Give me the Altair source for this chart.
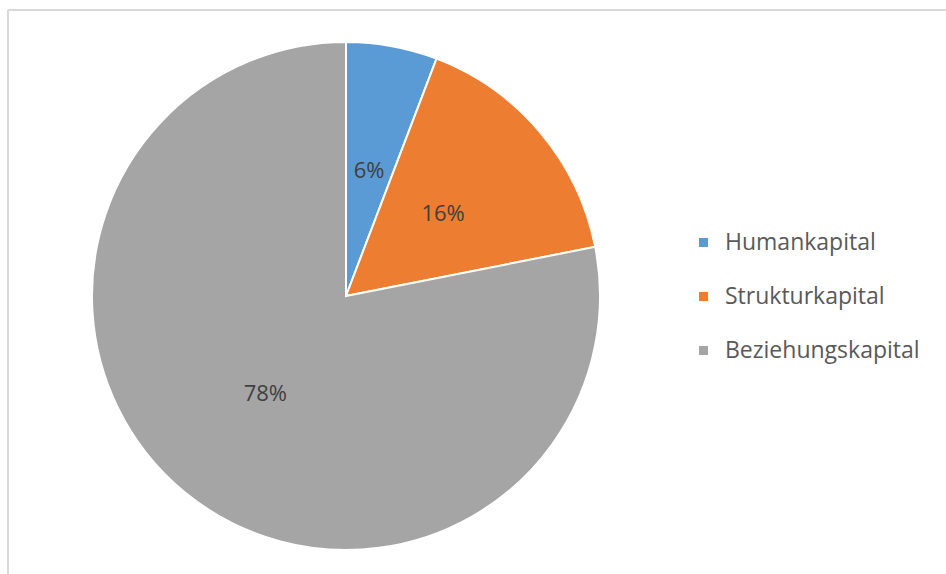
import altair as alt
import pandas as pd

categories = ["Humankapital", "Strukturkapital", "Beziehungskapital"]
shares = [0.058, 0.161, 0.781]
label_texts = ["6%", "16%", "78%"]
colors = ["#5B9BD5", "#ED7D31", "#A5A5A5"]

df = pd.DataFrame({
    "Kategorie": categories,
    "Anteil": shares,
    "Label": label_texts,
    "Ordnung": list(range(len(categories))),
})

FONT = "Open Sans"
CX, CY, R = 346, 296, 254

base = alt.Chart(df).encode(
    theta=alt.Theta("Anteil:Q", stack=True),
    order=alt.Order("Ordnung:Q"),
)

pie = base.mark_arc(outerRadius=R, stroke="white", strokeWidth=2).encode(
    x=alt.value(CX),
    y=alt.value(CY),
    color=alt.Color(
        "Kategorie:N",
        scale=alt.Scale(domain=categories, range=colors),
        sort=categories,
        legend=alt.Legend(
            title=None,
            orient="none",
            legendX=692,
            legendY=231,
            symbolType="square",
            symbolSize=81,
            symbolStrokeWidth=0,
            labelFont=FONT,
            labelFontSize=23,
            labelColor="#595959",
            labelLimit=400,
            rowPadding=30,
            labelOffset=10,
        ),
    ),
)

labels = base.mark_text(radius=127, font=FONT, fontSize=22, color="#404040").encode(
    x=alt.value(CX),
    y=alt.value(CY),
    text="Label:N",
)

frame_data = alt.Data(values=[{"k": 1}])
top_line = alt.Chart(frame_data).mark_rule(color="#D9D9D9", strokeWidth=2).encode(
    x=alt.value(8), x2=alt.value(946), y=alt.value(10)
)
left_line = alt.Chart(frame_data).mark_rule(color="#D9D9D9", strokeWidth=2).encode(
    x=alt.value(8), y=alt.value(10), y2=alt.value(574)
)

chart = alt.layer(top_line, left_line, pie, labels).properties(
    width=946, height=574, padding=0,
    autosize=alt.AutoSizeParams(type="none"),
    background="white",
).configure_view(stroke=None)

chart.save("out.html", embed_options={"renderer": "svg", "actions": False})
